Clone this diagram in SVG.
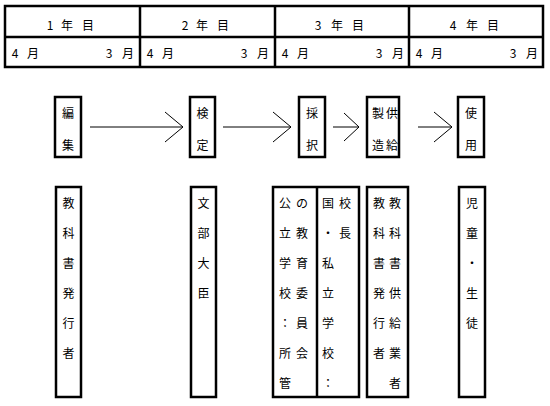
<svg xmlns="http://www.w3.org/2000/svg" width="550" height="406" viewBox="0 0 550 406">
<style>
  .box{fill:#fff;stroke:#000;stroke-width:2.5}
  .ln{fill:none;stroke:#000;stroke-width:2.5}
  .t{font-family:"Noto Sans CJK JP","DejaVu Sans",sans-serif;font-size:12px;fill:#000;text-anchor:middle}
  .a{fill:none;stroke:#000;stroke-width:1}
</style>
<rect width="550" height="406" fill="#fff"/>
<g id="timeline">
  <rect class="box" x="5" y="6" width="538" height="61"/>
  <line class="ln" x1="5" y1="37" x2="543" y2="37"/>
  <line class="ln" x1="140" y1="6" x2="140" y2="67"/>
  <line class="ln" x1="275" y1="6" x2="275" y2="67"/>
  <line class="ln" x1="409" y1="6" x2="409" y2="67"/>
  <text class="t" x="50 67 88" y="29.5">1年目</text>
  <text class="t" x="185 202 223" y="29.5">2年目</text>
  <text class="t" x="318 337 358" y="29.5">3年目</text>
  <text class="t" x="453 472 493" y="29.5">4年目</text>
  <text class="t" x="15 33" y="57.5">4月</text>
  <text class="t" x="109 128" y="57.5">3月</text>
  <text class="t" x="150 168" y="57.5">4月</text>
  <text class="t" x="244 263" y="57.5">3月</text>
  <text class="t" x="285 303" y="57.5">4月</text>
  <text class="t" x="379 398" y="57.5">3月</text>
  <text class="t" x="419 437" y="57.5">4月</text>
  <text class="t" x="513 532" y="57.5">3月</text>
</g>
<g id="henshu">
  <rect class="box" x="55" y="97" width="26" height="60"/>
  <text class="t" x="68" y="117.5">編</text>
  <text class="t" x="68" y="149.5">集</text>
</g>
<g id="kentei">
  <rect class="box" x="190" y="97" width="25" height="60"/>
  <text class="t" x="202.5" y="117.5">検</text>
  <text class="t" x="202.5" y="149.5">定</text>
</g>
<g id="saitaku">
  <rect class="box" x="299" y="97" width="26" height="60"/>
  <text class="t" x="312" y="117.5">採</text>
  <text class="t" x="312" y="149.5">択</text>
</g>
<g id="seizo">
  <rect class="box" x="367" y="97" width="32" height="60"/>
  <text class="t" x="378" y="117.5">製</text>
  <text class="t" x="378" y="149.5">造</text>
  <text class="t" x="392" y="117.5">供</text>
  <text class="t" x="392" y="149.5">給</text>
</g>
<g id="shiyo">
  <rect class="box" x="458" y="97" width="26" height="60"/>
  <text class="t" x="471" y="117.5">使</text>
  <text class="t" x="471" y="149.5">用</text>
</g>
<g id="connectors">
  <path class="a" d="M90 127H183M165 112L183 127L165 142"/>
  <path class="a" d="M223 127H291M273 112L291 127L273 142"/>
  <path class="a" d="M333 127H359M344 113L359 127L344 141"/>
  <path class="a" d="M418 127H452M434 112L452 127L434 142"/>
</g>
<g id="hakkosha">
  <rect class="box" x="56" y="187" width="25" height="210"/>
  <text class="t" x="68.5" y="207.5">教</text>
  <text class="t" x="68.5" y="237.5">科</text>
  <text class="t" x="68.5" y="267.5">書</text>
  <text class="t" x="68.5" y="297.5">発</text>
  <text class="t" x="68.5" y="327.5">行</text>
  <text class="t" x="68.5" y="357.5">者</text>
</g>
<g id="monbu">
  <rect class="box" x="191" y="187" width="25" height="210"/>
  <text class="t" x="203.5" y="207.5">文</text>
  <text class="t" x="203.5" y="237.5">部</text>
  <text class="t" x="203.5" y="267.5">大</text>
  <text class="t" x="203.5" y="297.5">臣</text>
</g>
<g id="saitakusha">
  <rect class="box" x="273" y="187" width="86" height="210"/>
  <line class="ln" x1="317" y1="187" x2="317" y2="397"/>
  <text class="t" x="285" y="207.5">公</text>
  <text class="t" x="285" y="237.5">立</text>
  <text class="t" x="285" y="267.5">学</text>
  <text class="t" x="285" y="297.5">校</text>
  <text class="t" x="285" y="327.5">：</text>
  <text class="t" x="285" y="357.5">所</text>
  <text class="t" x="285" y="387.5">管</text>
  <text class="t" x="302" y="207.5">の</text>
  <text class="t" x="302" y="237.5">教</text>
  <text class="t" x="302" y="267.5">育</text>
  <text class="t" x="302" y="297.5">委</text>
  <text class="t" x="302" y="327.5">員</text>
  <text class="t" x="302" y="357.5">会</text>
  <text class="t" x="328" y="207.5">国</text>
  <text class="t" x="328" y="237.5">・</text>
  <text class="t" x="328" y="267.5">私</text>
  <text class="t" x="328" y="297.5">立</text>
  <text class="t" x="328" y="327.5">学</text>
  <text class="t" x="328" y="357.5">校</text>
  <text class="t" x="328" y="387.5">：</text>
  <text class="t" x="345" y="207.5">校</text>
  <text class="t" x="345" y="237.5">長</text>
</g>
<g id="kyokyu">
  <rect class="box" x="367" y="187" width="41" height="210"/>
  <text class="t" x="379" y="207.5">教</text>
  <text class="t" x="379" y="237.5">科</text>
  <text class="t" x="379" y="267.5">書</text>
  <text class="t" x="379" y="297.5">発</text>
  <text class="t" x="379" y="327.5">行</text>
  <text class="t" x="379" y="357.5">者</text>
  <text class="t" x="395" y="207.5">教</text>
  <text class="t" x="395" y="237.5">科</text>
  <text class="t" x="395" y="267.5">書</text>
  <text class="t" x="395" y="297.5">供</text>
  <text class="t" x="395" y="327.5">給</text>
  <text class="t" x="395" y="357.5">業</text>
  <text class="t" x="395" y="387.5">者</text>
</g>
<g id="jido">
  <rect class="box" x="459" y="187" width="26" height="210"/>
  <text class="t" x="472" y="207.5">児</text>
  <text class="t" x="472" y="237.5">童</text>
  <text class="t" x="472" y="267.5">・</text>
  <text class="t" x="472" y="297.5">生</text>
  <text class="t" x="472" y="327.5">徒</text>
</g>
</svg>
